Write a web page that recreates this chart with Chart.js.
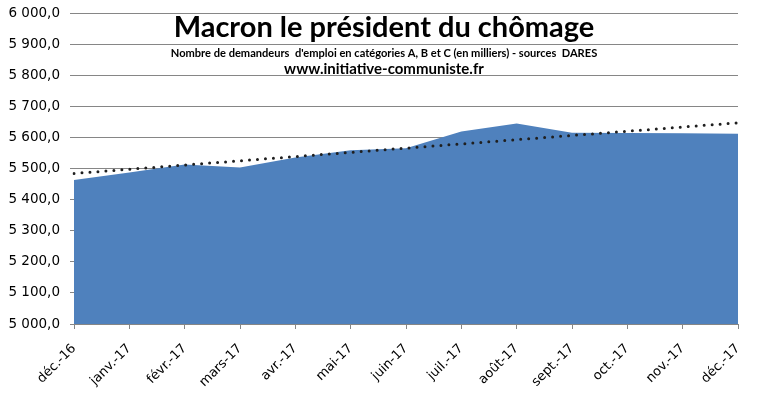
<!DOCTYPE html>
<html>
<head>
<meta charset="utf-8">
<script src="https://cdn.jsdelivr.net/npm/chart.js@4"></script>
<style>
html,body{margin:0;padding:0;background:#fff;}
#wrap{width:758px;height:396px;position:relative;}
</style>
</head>
<body>
<div id="wrap"><canvas id="c" width="758" height="396"></canvas></div>
<script>
const months = ['déc.-16','janv.-17','févr.-17','mars-17','avr.-17','mai-17','juin-17','juil.-17','août-17','sept.-17','oct.-17','nov.-17','déc.-17'];
const demandeurs = [5463, 5487, 5513, 5503, 5535, 5559, 5565, 5619, 5645, 5615, 5614, 5613, 5612];
const tendance = [5484, null, null, null, null, null, null, null, null, null, null, null, 5647];
const yMin = 5000, yMax = 6000, yStep = 100;
const titre = 'Macron le président du chômage';
const sousTitre = "Nombre de demandeurs  d'emploi en catégories A, B et C (en milliers) - sources  DARES";
const site = 'www.initiative-communiste.fr';

function fmt(v){
  const s = v.toFixed(1).replace('.', ',');
  const [ent, dec] = s.split(',');
  return ent.replace(/\B(?=(\d{3})+(?!\d))/g, ' ') + ',' + dec;
}

const titlePlugin = {
  id: 'titres',
  afterDraw(chart){
    const ctx = chart.ctx;
    ctx.save();
    ctx.fillStyle = '#000';
    ctx.textAlign = 'center';
    ctx.textBaseline = 'alphabetic';
    ctx.font = 'bold 29px Lato';
    ctx.fillText(titre, 384, 37);
    ctx.font = 'bold 11.1px Lato';
    ctx.fillText(sousTitre, 384, 57);
    ctx.font = 'bold 15px Lato';
    ctx.fillText(site, 384, 74);
    ctx.restore();
  }
};

new Chart(document.getElementById('c'), {
  type: 'line',
  data: {
    labels: months,
    datasets: [
      {
        label: 'Tendance',
        data: tendance,
        spanGaps: true,
        borderColor: '#1f1f1f',
        borderWidth: 3,
        borderDash: [0, 8],
        borderCapStyle: 'round',
        pointRadius: 0,
        fill: false,
        tension: 0
      },
      {
        label: 'Demandeurs',
        data: demandeurs,
        backgroundColor: '#4F81BD',
        borderColor: '#4F81BD',
        borderWidth: 0,
        pointRadius: 0,
        fill: 'start',
        tension: 0
      }
    ]
  },
  options: {
    responsive: false,
    animation: false,
    devicePixelRatio: 1,
    layout: { padding: { top: 13, right: 20, left: 0, bottom: 0 } },
    plugins: { legend: { display: false }, tooltip: { enabled: false }, title: { display: false } },
    scales: {
      x: {
        offset: false,
        grid: { drawOnChartArea: false, drawTicks: true, tickLength: 5, color: '#868686' },
        border: { display: true, color: '#868686', width: 1 },
        ticks: {
          maxRotation: 45, minRotation: 45, autoSkip: false,
          color: '#000', font: { family: 'DejaVu Sans', size: 13 }, padding: 12
        },
        afterFit(scale){ scale.height = 72; scale.paddingLeft = 0; scale.paddingRight = 0; }
      },
      y: {
        min: yMin, max: yMax,
        grid: { color: '#868686', lineWidth: 1, drawTicks: true, tickLength: 4 },
        border: { display: false },
        ticks: {
          stepSize: yStep, color: '#000', font: { family: 'DejaVu Sans', size: 13.5 }, padding: 10,
          callback: (v) => fmt(v)
        },
        afterFit(scale){ scale.width = 74; scale.paddingTop = 0; scale.paddingBottom = 0; }
      }
    }
  },
  plugins: [titlePlugin]
});
</script>
</body>
</html>
